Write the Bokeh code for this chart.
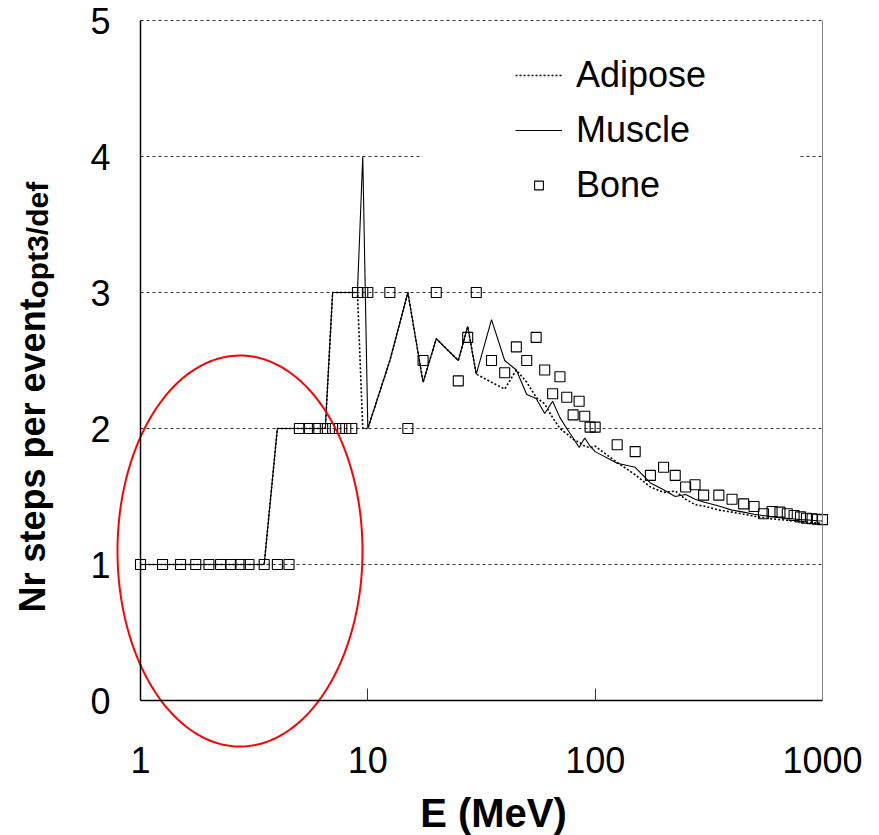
import numpy as np
from bokeh.plotting import figure
from bokeh.models import (FixedTicker, NumeralTickFormatter, Label, Legend, LegendItem,
                          BoxAnnotation, LinearAxis, Range1d)
from bokeh.embed import file_html
from bokeh.resources import INLINE

# ---------------- data ----------------
energy_line = [1, 1.25, 1.5, 1.75, 2, 2.25, 2.5, 2.75, 3, 3.5, 4, 4.5,
               5, 5.5, 6, 6.5, 7, 7.5, 8, 8.5, 9, 9.5, 10, 12.5, 15, 17.5, 20,
               25, 27.5, 30, 35, 40, 45, 50, 55, 60, 65, 70, 75, 80, 85, 90, 95, 100,
               125, 150, 175, 200, 225, 250, 275, 300,
               350, 400, 450, 500, 550, 600, 650, 700, 750, 800, 850, 900, 950, 1000]

muscle = [1, 1, 1, 1, 1, 1, 1, 1, 1, 1, 2, 2,
          2, 2, 2, 2, 3, 3, 3, 3, 3, 4, 2, 2.5, 3, 2.34, 2.66,
          2.5, 2.75, 2.4, 2.8, 2.5, 2.43, 2.25, 2.22, 2.11, 2.2, 2.08, 2.0, 1.93, 1.86, 1.93, 1.87, 1.83,
          1.745, 1.715, 1.6, 1.55, 1.5, 1.515, 1.48, 1.46,
          1.43, 1.40, 1.385, 1.37, 1.36, 1.35, 1.345, 1.34, 1.335, 1.33, 1.328, 1.325, 1.322, 1.32]

adipose = [1, 1, 1, 1, 1, 1, 1, 1, 1, 1, 2, 2,
           2, 2, 2, 2, 3, 3, 3, 3, 3, 2, 2, 2.5, 3, 2.34, 2.66,
           2.5, 2.75, 2.4, 2.34, 2.29, 2.43, 2.34, 2.23, 2.18, 2.08, 2.0, 1.96, 1.92, 1.9, 1.87, 1.86, 1.87,
           1.75, 1.66, 1.57, 1.53, 1.54, 1.48, 1.44, 1.43,
           1.40, 1.385, 1.37, 1.355, 1.345, 1.335, 1.33, 1.325, 1.32, 1.315, 1.31, 1.308, 1.305, 1.30]

energy_bone = [1, 1.25, 1.5, 1.75, 2, 2.25, 2.5, 2.75, 3, 3.5, 4, 4.5,
               5, 5.5, 6, 6.5, 7, 7.5, 8, 8.5, 9, 9.5, 10, 12.5, 15, 17.5, 20,
               25, 27.5, 30, 35, 40, 45, 50, 55, 60, 65, 70, 75, 80, 85, 90, 95, 100,
               125, 150, 175, 200, 225, 250, 275, 300,
               350, 400, 450, 500, 550, 600, 650, 700, 750, 800, 850, 900, 950, 1000]

bone = [1, 1, 1, 1, 1, 1, 1, 1, 1, 1, 1, 1,
        2, 2, 2, 2, 2, 2, 2, 2, 3, 3, 3, 3, 2, 2.5, 3,
        2.35, 2.67, 3, 2.5, 2.41, 2.6, 2.5, 2.67, 2.43, 2.255, 2.38, 2.23, 2.10, 2.2, 2.09, 2.01, 2.01,
        1.88, 1.83, 1.655, 1.715, 1.655, 1.57, 1.586, 1.51,
        1.51, 1.48, 1.446, 1.426, 1.373, 1.39, 1.385, 1.373, 1.36, 1.35, 1.34, 1.336, 1.333, 1.33]

x_ticks = [1, 10, 100, 1000]
y_ticks = [0, 1, 2, 3, 4, 5]
grid_levels = [1, 2, 3, 4, 5]

FONT = "Liberation Sans"

# ---------------- layout geometry (pixel <-> data) ----------------
W, H = 879, 835
X0_PX, DEC_PX = 140.0, 227.33      # pixel of E=1 and pixels per decade
Y0_PX, UNIT_PX = 700.0, 136.0      # pixel of y=0 and pixels per unit


def xdata(px):
    return 10 ** ((px - X0_PX) / DEC_PX)


def ydata(py):
    return (Y0_PX - py) / UNIT_PX


p = figure(width=W, height=H, x_axis_type="log",
           x_range=Range1d(xdata(0), xdata(W)), y_range=Range1d(ydata(H), ydata(0)),
           output_backend="svg", toolbar_location=None, min_border=0)
p.min_border_left = p.min_border_right = p.min_border_top = p.min_border_bottom = 0
p.background_fill_color = "white"
p.border_fill_color = "white"
p.outline_line_color = None

# axes placed at data locations, bounded to the data box
p.xaxis.fixed_location = 0
p.xaxis.bounds = (1, 1000)
p.xaxis.ticker = FixedTicker(ticks=x_ticks)
p.xaxis.formatter = NumeralTickFormatter(format="0")
p.xaxis.major_label_text_font = FONT
p.xaxis.major_label_text_font_size = "36px"
p.xaxis.major_label_text_color = "black"
p.xaxis.major_label_standoff = 46
p.xaxis.major_tick_in = 12
p.xaxis.major_tick_out = 0
p.xaxis.major_tick_line_color = "#333333"
p.xaxis.minor_tick_line_color = None
p.xaxis.axis_line_color = "black"
p.xaxis.axis_line_width = 1.5

p.yaxis.fixed_location = 1
p.yaxis.bounds = (0, 5)
p.yaxis.ticker = FixedTicker(ticks=y_ticks)
p.yaxis.major_label_text_font = FONT
p.yaxis.major_label_text_font_size = "36px"
p.yaxis.major_label_text_color = "black"
p.yaxis.major_label_standoff = 30
p.yaxis.major_tick_in = 0
p.yaxis.major_tick_out = 0
p.yaxis.minor_tick_line_color = None
p.yaxis.axis_line_color = "black"
p.yaxis.axis_line_width = 1.5

right_axis = LinearAxis(fixed_location=1000, bounds=(0, 5),
                        axis_line_color="#808080", axis_line_width=1,
                        major_tick_line_color=None, minor_tick_line_color=None,
                        major_label_text_font_size="0px", ticker=FixedTicker(ticks=[]))
p.add_layout(right_axis, "right")

# grid
p.xgrid.visible = False
p.ygrid.ticker = FixedTicker(ticks=grid_levels)
p.ygrid.grid_line_color = "#333333"
p.ygrid.grid_line_dash = "3 3"
p.ygrid.grid_line_width = 1
try:
    p.ygrid.cross_bounds = (1, 1000)
except Exception:
    p.ygrid.visible = False
    p.segment(x0=[1] * len(grid_levels), x1=[1000] * len(grid_levels),
              y0=grid_levels, y1=grid_levels, line_color="#333333",
              line_dash="3 3", line_width=1, level="underlay")

# mask the gridline behind the legend box
p.add_layout(BoxAnnotation(left=17.4, right=780, bottom=3.7, top=4.3,
                           fill_color="white", fill_alpha=1, line_color=None, level="underlay"))

# ---------------- data renderers ----------------
r_adi = p.line(energy_line, adipose, line_color="black", line_width=1.6, line_dash="2 2")
r_mus = p.line(energy_line, muscle, line_color="black", line_width=1.1)
r_bone = p.scatter(energy_bone, bone, marker="square", size=10, fill_color=None,
                   line_color="black", line_width=1.1)

legend = Legend(items=[LegendItem(label="Adipose", renderers=[r_adi]),
                       LegendItem(label="Muscle", renderers=[r_mus]),
                       LegendItem(label="Bone", renderers=[r_bone])],
                location=(515, 629),
                label_text_font=FONT, label_text_font_size="36px", label_text_color="black",
                label_standoff=14, glyph_width=47, glyph_height=22, label_height=42,
                spacing=13, padding=20, margin=0,
                background_fill_alpha=0, border_line_color=None)
p.add_layout(legend)

# ---------------- red ellipse (highlight) ----------------
t = np.linspace(0, 2 * np.pi, 240)
ell_cx, ell_a, ell_cy, ell_b = 0.4377, 0.5389, 1.099, 1.4375
p.line(10 ** (ell_cx + ell_a * np.cos(t)), ell_cy + ell_b * np.sin(t),
       line_color="#ff0000", line_width=2)

# ---------------- titles ----------------
p.add_layout(Label(x=xdata(493), y=ydata(812), text="E (MeV)", text_align="center",
                   text_baseline="alphabetic", text_font=FONT, text_font_style="bold",
                   text_font_size="40px", text_color="black"))
p.add_layout(Label(x=xdata(32), y=ydata(612), text="Nr steps per event", angle=np.pi / 2,
                   text_align="left", text_baseline="alphabetic", text_font=FONT,
                   text_font_style="bold", text_font_size="36px", text_color="black"))
p.add_layout(Label(x=xdata(37), y=ydata(298), text="opt3/def", angle=np.pi / 2,
                   text_align="left", text_baseline="alphabetic", text_font=FONT,
                   text_font_style="bold", text_font_size="30px", text_color="black"))

open("out.html", "w").write(file_html(p, INLINE))
